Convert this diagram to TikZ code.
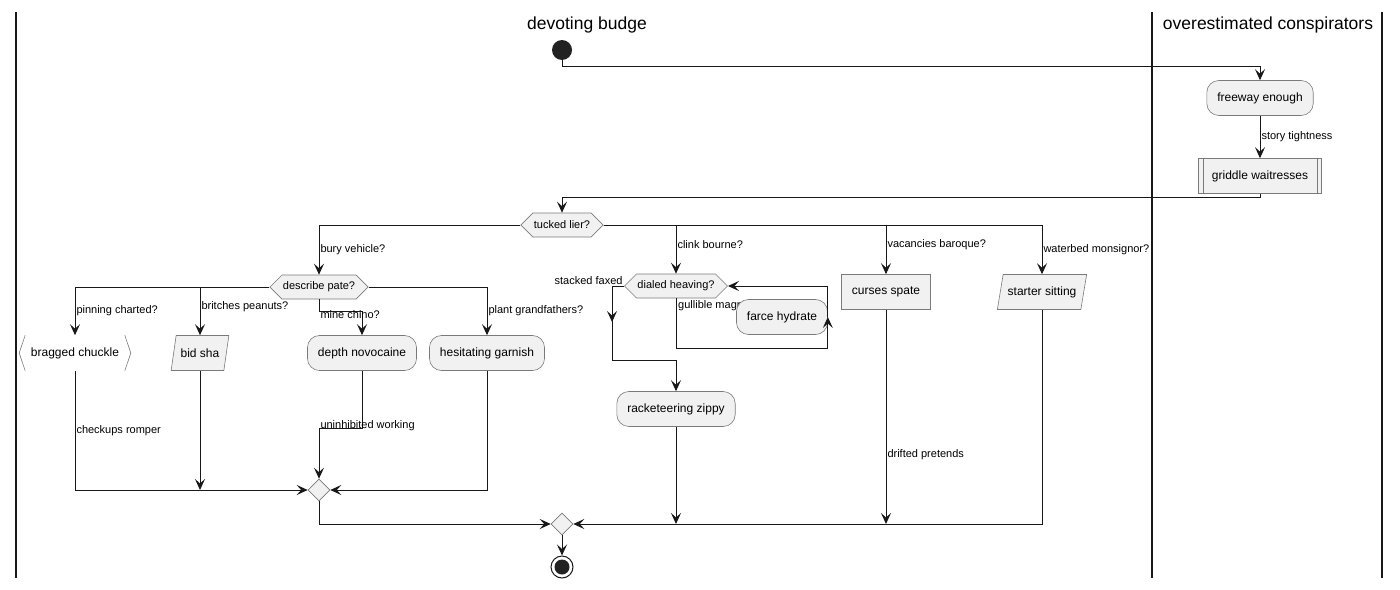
\documentclass[tikz,border=0pt]{standalone}
\usepackage{fontspec}
\setmainfont{Liberation Sans}
\usetikzlibrary{arrows.meta,shapes.geometric,shapes.symbols}
\definecolor{nodefill}{HTML}{F1F1F1}
\definecolor{lineclr}{HTML}{181818}
\definecolor{boxclr}{HTML}{7A7A7A}
\definecolor{dotclr}{HTML}{222222}
\tikzset{
  conn/.style={draw=lineclr, line width=1pt},
  flow/.style={conn, -{Stealth[length=11pt,width=10pt,inset=4.5pt]}},
  lbl/.style={font=\fontsize{11}{13}\selectfont, inner sep=1pt},
  activity/.style={draw=boxclr, line width=0.6pt, fill=nodefill, rounded corners=12pt,
    minimum height=35pt, inner xsep=10.5pt, font=\fontsize{12}{14}\selectfont},
  plainbox/.style={activity, rounded corners=0pt},
  inout/.style={plainbox, trapezium, trapezium stretches=true, trapezium left angle=72,
    trapezium right angle=108, inner xsep=4.5pt},
  decision/.style={draw=boxclr, line width=0.6pt, fill=nodefill, signal,
    signal to=east and west, signal pointer angle=90, minimum height=24pt,
    inner xsep=1pt, inner ysep=0pt, font=\fontsize{11}{13}\selectfont},
  merge/.style={draw=boxclr, line width=0.6pt, fill=nodefill, diamond,
    minimum size=22pt, inner sep=0pt},
  lane/.style={draw=lineclr, line width=1.5pt},
  lanetitle/.style={font=\fontsize{17.5}{20}\selectfont}
}
\begin{document}
\begin{tikzpicture}[x=1pt,y=-1pt]
    \useasboundingbox (0,0) rectangle (1400,589);
    \foreach \x in {16,1152,1382}
    \draw[lane] (\x,12) -- (\x,578);
    \node[lanetitle] (lanea) at (587,25) {devoting budge};
    \node[lanetitle] (laneb) at (1268,25) {overestimated conspirators};

    \node[circle, fill=dotclr, minimum size=20pt, inner sep=0pt] (start) at (562,50) {};
    \node[activity] (freeway) at (1260,98) {freeway enough};
    \node[plainbox, minimum width=123pt] (griddle) at (1260,176) {griddle waitresses};
    \draw[boxclr, line width=0.6pt] ([xshift=5pt]griddle.north west) -- ([xshift=5pt]griddle.south west);
    \draw[boxclr, line width=0.6pt] ([xshift=-5pt]griddle.north east) -- ([xshift=-5pt]griddle.south east);
    \node[decision] (tucked) at (562,225) {tucked lier?};
    \node[decision] (describe) at (319,287) {describe pate?};
    \node[decision] (dialed) at (676,286) {dialed heaving?};
    \node[plainbox] (curses) at (886,292) {curses spate};
    \node[inout] (starter) at (1042,292) {starter sitting};
    \node[activity, draw=none, fill=white, rounded corners=0pt, minimum width=111pt] (bragged) at (75,353) {bragged chuckle};
    \draw[boxclr, line width=0.6pt] ([xshift=6pt]bragged.north west) -- (bragged.west) -- ([xshift=6pt]bragged.south west);
    \draw[boxclr, line width=0.6pt] ([xshift=-6pt]bragged.north east) -- (bragged.east) -- ([xshift=-6pt]bragged.south east);
    \node[inout] (bidsha) at (200,353) {bid sha};
    \node[activity] (depth) at (362,353) {depth novocaine};
    \node[activity] (hesit) at (487,353) {hesitating garnish};
    \node[lbl, anchor=west] (gullible) at (677,306) {gullible magn};
    \node[activity] (farce) at (782,317) {farce hydrate};
    \node[activity] (racket) at (676,409) {racketeering zippy};
    \node[merge] (mergea) at (319,490) {};
    \node[merge] (mergeb) at (562,524) {};
    \node[circle, draw=lineclr, line width=1pt, fill=white, minimum size=22pt, inner sep=0pt] (stop) at (562,567) {};
    \fill[dotclr] (stop) circle (7.5pt);

    \draw[flow] (start.south) -- ++(0,6) -| (freeway.north);
    \draw[flow] (freeway) -- node[lbl, anchor=west] {story tightness} (griddle);
    \draw[flow] (griddle.south) -- ++(0,4) -| (tucked.north);
    \draw[flow] (tucked.west) -| node[lbl, pos=0.75, anchor=west] {bury vehicle?} (describe.north);
    \draw[flow] (tucked.east) -| node[lbl, pos=0.7, anchor=west] {clink bourne?} (dialed.north);
    \draw[flow] (tucked.east) -| node[lbl, pos=0.7, anchor=west] {vacancies baroque?} (curses.north);
    \draw[flow] (tucked.east) -| node[lbl, pos=0.75, anchor=west] {waterbed monsignor?} (starter.north);

    \draw[flow] (describe.west) -| node[lbl, pos=0.75, anchor=west] {pinning charted?} (bragged.north);
    \draw[flow] (describe.west) -| node[lbl, pos=0.7, anchor=west] {britches peanuts?} (bidsha.north);
    \draw[flow] (describe.south) -- ++(0,12) node[lbl, anchor=west, yshift=-3pt] {mine chino?} -| (depth.north);
    \draw[flow] (describe.east) -| node[lbl, pos=0.75, anchor=west] {plant grandfathers?} (hesit.north);

    \draw[flow] (bragged.south) |- node[lbl, pos=0.25, anchor=west] {checkups romper} (mergea.west);
    \draw[flow] (bidsha.south) -- (bidsha.south |- mergea);
    \draw[flow] (depth.south) -- ++(0,58) -| node[lbl, pos=0.5, anchor=base west] {uninhibited working} (mergea.north);
    \draw[flow] (hesit.south) |- (mergea.east);
    \draw[flow] (mergea.south) |- (mergeb.west);

    \draw[flow] (dialed.west) node[lbl, anchor=south east] {stacked faxed} -| ++(-12,36);
    \draw[flow] (dialed.west) ++(-12,0) -- ++(0,74) -| (racket.north);
    \draw[flow] (dialed.south) -- ++(0,50) -| (farce.east);
    \draw[flow] (farce.east) |- (dialed.east);
    \draw[flow] (racket.south) -- (racket.south |- mergeb);
    \draw[flow] (curses.south) -- node[lbl, pos=0.674, anchor=west] {drifted pretends} (curses.south |- mergeb);
    \draw[flow] (starter.south) |- (mergeb.east);
    \draw[flow] (mergeb.south) -- (stop.north);
\end{tikzpicture}
\end{document}
